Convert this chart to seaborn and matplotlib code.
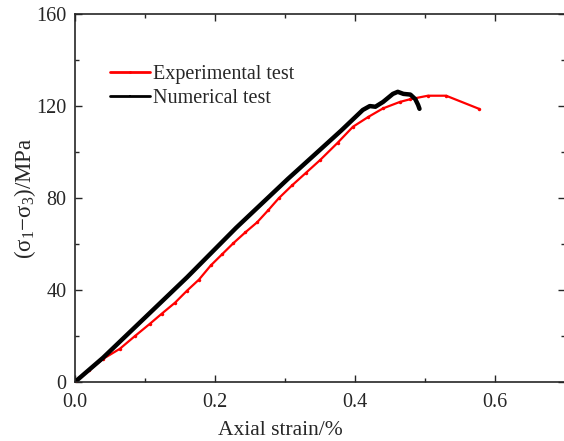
import matplotlib
matplotlib.use("Agg")
import matplotlib.pyplot as plt
import seaborn as sns
import pandas as pd
from matplotlib.ticker import MultipleLocator

# Stress-strain curves (axial strain in %, deviatoric stress in MPa)
exp_strain = [0.0, 0.02, 0.04, 0.064, 0.085, 0.107, 0.124, 0.143, 0.16, 0.177,
              0.194, 0.21, 0.226, 0.243, 0.26, 0.276, 0.291, 0.31, 0.33, 0.35,
              0.375, 0.397, 0.419, 0.44, 0.464, 0.479, 0.504, 0.53, 0.577]
exp_stress = [0.0, 5.0, 10.0, 14.4, 19.8, 25.3, 29.7, 34.5, 39.7, 44.5,
              50.7, 55.5, 60.3, 65.0, 69.4, 74.7, 79.9, 85.5, 91.0, 96.5,
              104.0, 111.0, 115.3, 119.0, 121.8, 123.0, 124.5, 124.5, 118.8]

num_strain = [0.0, 0.04, 0.1, 0.16, 0.23, 0.304, 0.35, 0.38, 0.411, 0.421,
              0.429, 0.44, 0.454, 0.461, 0.469, 0.479, 0.486, 0.49, 0.492]
num_stress = [0.0, 10.5, 28.0, 45.5, 67.0, 88.3, 101.0, 109.3, 118.3, 120.0,
              119.7, 121.8, 125.3, 126.2, 125.3, 125.0, 123.0, 120.5, 118.8]

series_names = ["Experimental test", "Numerical test"]

df = pd.concat([
    pd.DataFrame({"strain": exp_strain, "stress": exp_stress, "test": series_names[0]}),
    pd.DataFrame({"strain": num_strain, "stress": num_stress, "test": series_names[1]}),
])

sns.set_style("ticks")
plt.rcParams["font.family"] = ["Liberation Serif", "DejaVu Serif"]
plt.rcParams["mathtext.fontset"] = "custom"
plt.rcParams["mathtext.rm"] = "Liberation Serif"
plt.rcParams["mathtext.it"] = "Liberation Serif"

fig = plt.figure(figsize=(5.64, 4.41), dpi=100)
ax = fig.add_axes([0.133, 0.134, 0.869, 0.834])

sns.lineplot(data=df[df.test == series_names[0]], x="strain", y="stress",
             color="#ff0000", lw=1.6, marker="o", markersize=2.5,
             markeredgewidth=0, sort=False, estimator=None, ax=ax,
             label=series_names[0])
sns.lineplot(data=df[df.test == series_names[1]], x="strain", y="stress",
             color="black", lw=3.2, marker="s", markersize=2,
             markeredgewidth=0, sort=False, estimator=None, ax=ax,
             label=series_names[1])

ax.set_xlim(0, 0.7)
ax.set_ylim(0, 160)
ax.xaxis.set_major_locator(MultipleLocator(0.2))
ax.xaxis.set_minor_locator(MultipleLocator(0.1))
ax.yaxis.set_major_locator(MultipleLocator(40))
ax.yaxis.set_minor_locator(MultipleLocator(20))
ax.xaxis.set_major_formatter(matplotlib.ticker.FormatStrFormatter("%.1f"))
ax.tick_params(which="both", direction="in", top=True, right=True,
               labelsize=14.5, width=1)
ax.tick_params(which="major", length=5)
ax.tick_params(which="minor", length=3)
ax.tick_params(axis="x", pad=8)
ax.tick_params(axis="y", pad=6)
for s in ax.spines.values():
    s.set_linewidth(1.2)

ax.set_xlabel("Axial strain/%", fontsize=15.5)
ax.xaxis.set_label_coords(0.418, -0.105)
ax.set_ylabel("(σ$_1$−σ$_3$)/MPa", fontsize=16.5, labelpad=-1)

leg = ax.legend(loc="upper left", bbox_to_anchor=(0.055, 0.885), frameon=False,
                fontsize=14.5, handlelength=2.0, handletextpad=0.15,
                labelspacing=0.25, borderaxespad=0)
for h in leg.legend_handles:
    h.set_linewidth(2)
    h.set_markersize(2)

fig.savefig("out.png", dpi=100)
